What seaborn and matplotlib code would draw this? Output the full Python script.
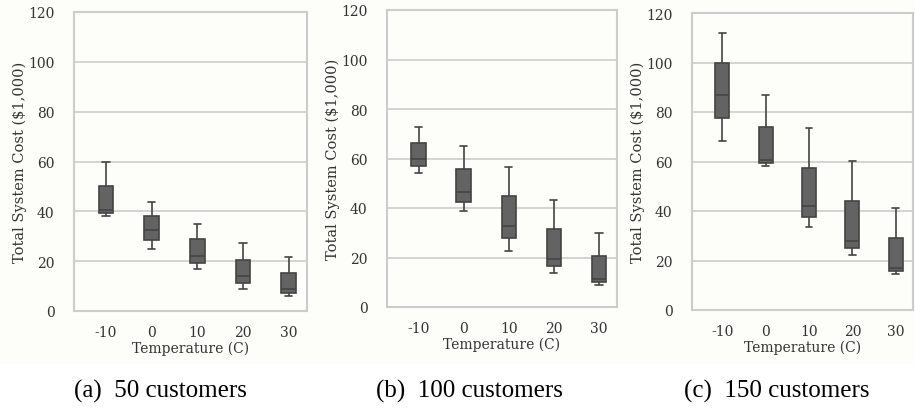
import pandas as pd
import matplotlib
matplotlib.use("Agg")
import matplotlib.pyplot as plt
from matplotlib.patches import Rectangle
import seaborn as sns

# five-number summaries (min, Q1, median, Q3, max), in $1,000
temperatures = ["-10", "0", "10", "20", "30"]

cost_50 = [
    [38.0, 39.3, 40.6, 50.0, 59.7],
    [24.8, 28.5, 32.6, 38.0, 43.6],
    [16.8, 19.2, 22.1, 28.7, 35.1],
    [9.0, 11.1, 14.1, 20.5, 27.3],
    [6.0, 7.4, 8.7, 15.4, 21.7],
]
cost_100 = [
    [54.0, 56.8, 59.8, 66.2, 72.9],
    [38.6, 42.4, 46.6, 55.6, 64.9],
    [22.6, 27.9, 32.7, 44.7, 56.5],
    [13.9, 16.6, 19.2, 31.4, 43.2],
    [8.7, 10.1, 11.4, 20.6, 30.0],
]
cost_150 = [
    [68.1, 77.7, 87.0, 99.7, 111.9],
    [58.2, 59.4, 60.5, 73.9, 87.0],
    [33.5, 37.6, 41.9, 57.5, 73.4],
    [22.2, 25.2, 27.9, 43.9, 60.1],
    [14.7, 15.9, 17.1, 29.2, 41.3],
]

captions = ["(a)  50 customers", "(b)  100 customers", "(c)  150 customers"]
panels = [cost_50, cost_100, cost_150]


def to_frame(summary):
    rows = []
    for temp, vals in zip(temperatures, summary):
        for v in vals:
            rows.append({"temp": temp, "cost": v})
    return pd.DataFrame(rows)


sns.set_theme(style="whitegrid")
plt.rcParams["font.family"] = ["DejaVu Serif"]

fig = plt.figure(figsize=(9.15, 4.1), dpi=100)
fig.patch.set_facecolor("#fdfdfa")
# caption strip is plain white
fig.patches.append(Rectangle((0, 0), 1, 45 / 410, transform=fig.transFigure,
                             facecolor="white", edgecolor="none", zorder=0))

# axes boxes in pixels: left, right, top, bottom
boxes_px = [(74, 307, 13, 312), (387, 617, 11, 308), (692, 913, 14, 311)]
caption_x = [160, 469, 777]

for summary, (l, r, t, b), cap, cx in zip(panels, boxes_px, captions, caption_x):
    ax = fig.add_axes([l / 915, (410 - b) / 410, (r - l) / 915, (b - t) / 410])
    ax.set_facecolor("#fdfdfa")
    df = to_frame(summary)
    sns.boxplot(
        data=df, x="temp", y="cost", order=temperatures, ax=ax,
        whis=(0, 100), width=0.32, color="#636363", saturation=1,
        linecolor="#444444", linewidth=1.2,
    )
    ax.set_ylim(0, 120)
    ax.set_yticks([0, 20, 40, 60, 80, 100, 120])
    ax.set_xlim(-0.7, 4.4)
    ax.grid(axis="x", visible=False)
    ax.grid(axis="y", color="#cccccc", linewidth=1.2)
    for s in ax.spines.values():
        s.set_color("#cccccc")
        s.set_linewidth(1.5)
    ax.tick_params(axis="both", labelsize=10, colors="#333333", length=0)
    ax.tick_params(axis="y", pad=14)
    ax.tick_params(axis="x", pad=10)
    ax.set_xlabel("Temperature (C)", fontsize=10, color="#333333", labelpad=1)
    ax.set_ylabel("Total System Cost ($1,000)", fontsize=10.5, color="#333333", labelpad=1)
    fig.text(cx / 915, 1 - 391 / 410, cap, ha="center", va="center",
             fontsize=18, family=["Liberation Serif"], color="black")

fig.savefig("out.png", dpi=100, facecolor=fig.get_facecolor())
